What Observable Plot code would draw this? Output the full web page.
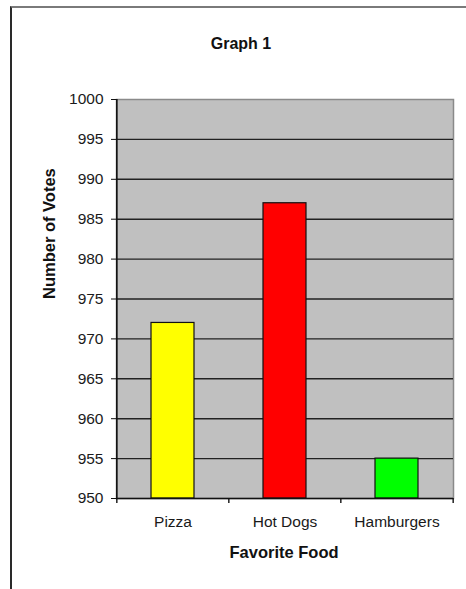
<!DOCTYPE html>
<html>
<head>
<meta charset="utf-8">
<script src="https://cdn.jsdelivr.net/npm/d3@7"></script>
<script src="https://cdn.jsdelivr.net/npm/@observablehq/plot@0.6"></script>
<style>
  html, body { margin: 0; padding: 0; background: #fff; overflow: hidden; }
  #wrap { position: relative; width: 466px; height: 589px; }
  #frame { position: absolute; left: 10px; top: 6px; right: -20px; bottom: -20px;
           border-top: 2px solid #7a7a7a; border-left: 2px solid #2a2a2a; }
  #chart { position: absolute; left: 0; top: 0; }
</style>
</head>
<body>
<div id="wrap"><div id="frame"></div><div id="chart"></div></div>
<script>
// Data
const categories = ["Pizza", "Hot Dogs", "Hamburgers"];
const votes = [972, 987, 955];
const barColors = ["#ffff00", "#ff0000", "#00ff00"];
const yTicks = [950, 955, 960, 965, 970, 975, 980, 985, 990, 995, 1000];
const gridTicks = [955, 960, 965, 970, 975, 980, 985, 990, 995];
const yDomain = [950, 1000];
const chartTitle = "Graph 1";
const xTitle = "Favorite Food";
const yTitle = "Number of Votes";

const data = categories.map((c, i) => ({food: c, votes: votes[i], color: barColors[i]}));

const W = 466, H = 589;
const mL = 116, mR = 13, mT = 99, mB = 91;
const step = (W - mL - mR) / categories.length;

const chart = Plot.plot({
  width: W,
  height: H,
  marginLeft: mL,
  marginRight: mR,
  marginTop: mT,
  marginBottom: mB,
  style: {background: "transparent", fontFamily: "'Liberation Sans', Arial, sans-serif", fontSize: "15.5px", color: "#111", overflow: "visible"},
  x: {domain: categories, paddingInner: 0.616, paddingOuter: 0.308, label: null},
  y: {domain: yDomain, label: null},
  marks: [
    Plot.frame({fill: "#c0c0c0", stroke: "#8a8a8a", strokeWidth: 1.5}),
    Plot.ruleY(gridTicks, {stroke: "#222", strokeWidth: 1.4}),
    Plot.barY(data, {x: "food", y1: () => yDomain[0], y2: "votes", fill: "color", stroke: "#111", strokeWidth: 1.2}),
    // left axis line
    Plot.ruleX([categories[0]], {x: d => d, y1: () => yDomain[0], y2: () => yDomain[1], dx: -step / 2, stroke: "#111", strokeWidth: 1.6}),
    // bottom axis line
    Plot.ruleY([yDomain[0]], {stroke: "#111", strokeWidth: 1.6}),
    // category boundary ticks
    Plot.ruleX(categories, {x: d => d, y1: () => yDomain[0], y2: () => yDomain[0], insetBottom: -5, dx: -step / 2, stroke: "#111", strokeWidth: 1.4}),
    Plot.ruleX([categories[categories.length - 1]], {x: d => d, y1: () => yDomain[0], y2: () => yDomain[0], insetBottom: -5, dx: step / 2, stroke: "#111", strokeWidth: 1.4}),
    Plot.axisY({ticks: yTicks, tickSize: 5, tickPadding: 8, stroke: "#111", fill: "#1a1a1a", label: null, tickFormat: d => String(d)}),
    Plot.axisX({tickSize: 0, tickPadding: 17, fill: "#1a1a1a", label: null}),
    Plot.text([chartTitle], {text: d => d, frameAnchor: "top", dy: -56, dx: -44, fontWeight: "bold", fontSize: 16, fill: "#111", lineAnchor: "middle"}),
    Plot.text([xTitle], {text: d => d, frameAnchor: "bottom", dy: 54, dx: -1, fontWeight: "bold", fontSize: 16.5, fill: "#111", lineAnchor: "middle"}),
    Plot.text([yTitle], {text: d => d, frameAnchor: "left", dx: -67, rotate: -90, fontWeight: "bold", fontSize: 16.5, fill: "#111", lineAnchor: "middle"})
  ]
});
document.getElementById("chart").appendChild(chart);
</script>
</body>
</html>
